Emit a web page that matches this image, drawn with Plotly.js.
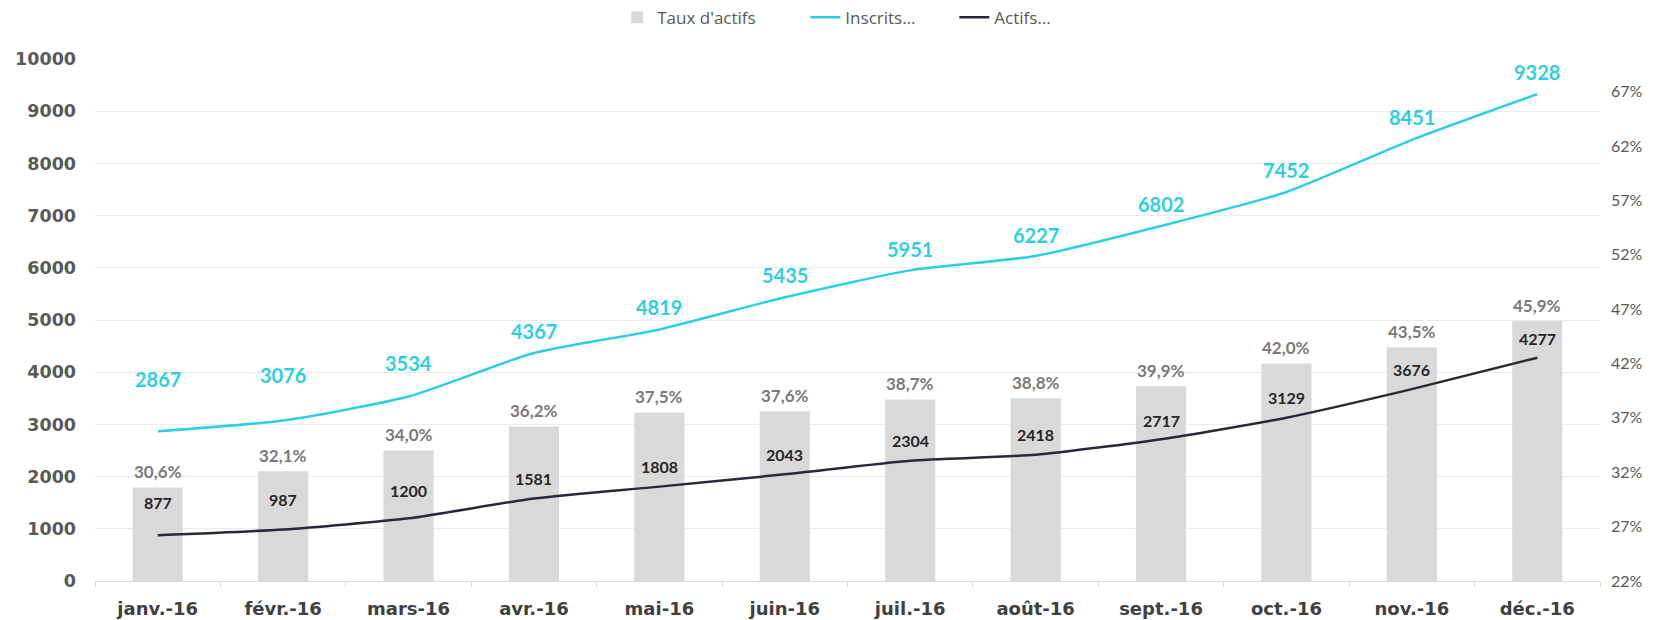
<!DOCTYPE html>
<html>
<head>
<meta charset="utf-8">
<script src="https://cdn.plot.ly/plotly-3.0.1.min.js"></script>
<style>html,body{margin:0;padding:0;background:#fff;}#chart{width:1659px;height:620px;}</style>
</head>
<body>
<div id="chart"></div>
<script>
const months = ["janv.-16","févr.-16","mars-16","avr.-16","mai-16","juin-16","juil.-16","août-16","sept.-16","oct.-16","nov.-16","déc.-16"];
const tauxActifs = [0.306,0.321,0.340,0.362,0.375,0.376,0.387,0.388,0.399,0.420,0.435,0.459];
const inscrits = [2867,3076,3534,4367,4819,5435,5951,6227,6802,7452,8451,9328];
const actifs = [877,987,1200,1581,1808,2043,2304,2418,2717,3129,3676,4277];

// label offsets (px) — styling only
const inscritsShift = [52,45,34,22,22,22,21,21,22,22,23,22];
const actifsShift = [33,30,28,20,20,20,20,20,19,20,20,19];

const CYAN = '#30CFE0';
const DARK = '#2B2835';
const FONT = 'Lato, "Open Sans", sans-serif';
const BOLDW = '"DejaVu Sans", sans-serif';
const LEG = '"Open Sans", sans-serif';

const traces = [
  {type:'bar', name:"Taux d'actifs", x:months, y:tauxActifs, yaxis:'y', legend:'legend',
   marker:{color:'#D9D9D9'}, hoverinfo:'skip'},
  {type:'scatter', mode:'lines', name:'Inscrits…', x:months, y:inscrits, yaxis:'y2', legend:'legend2',
   line:{color:CYAN, width:2.5, shape:'spline', smoothing:0.6}},
  {type:'scatter', mode:'lines', name:'Actifs…', x:months, y:actifs, yaxis:'y2', legend:'legend3',
   line:{color:DARK, width:2.5, shape:'spline', smoothing:0.6}}
];

const annotations = [];
months.forEach((m,i)=>{
  annotations.push({x:m, y:inscrits[i], xref:'x', yref:'y2', text:String(inscrits[i]), showarrow:false,
    yshift:inscritsShift[i], font:{family:FONT, size:20, color:CYAN, weight:700}});
  annotations.push({x:m, y:actifs[i], xref:'x', yref:'y2', text:String(actifs[i]), showarrow:false,
    yshift:actifsShift[i], font:{family:FONT, size:16, color:'#262626', weight:700}});
  annotations.push({x:m, y:tauxActifs[i], xref:'x', yref:'y', text:(tauxActifs[i]*100).toFixed(1).replace('.',',')+'%', showarrow:false,
    yshift:16, font:{family:FONT, size:17, color:'#7A7A7A', weight:700}});
});

const legBase = {orientation:'h', xanchor:'left', y:1.079, yanchor:'middle', itemwidth:30,
  font:{family:LEG, size:17, color:'#595959'}, bgcolor:'rgba(0,0,0,0)'};

const layout = {
  width:1659, height:620,
  margin:{l:95, r:59, t:59, b:39, autoexpand:false},
  paper_bgcolor:'#fff', plot_bgcolor:'#fff',
  separators:', ',
  bargap:0.6,
  showlegend:true,
  legend:Object.assign({}, legBase, {x:0.347}),
  legend2:Object.assign({}, legBase, {x:0.472}),
  legend3:Object.assign({}, legBase, {x:0.571}),
  xaxis:{type:'category', showline:true, linecolor:'#D9D9D9', linewidth:1,
    ticks:'outside', tickson:'boundaries', ticklen:5, tickcolor:'#D9D9D9', ticklabelstandoff:11,
    showgrid:false, tickfont:{family:BOLDW, size:18, color:'#404040', weight:700}},
  yaxis:{side:'right', range:[0.22,0.70], tick0:0.22, dtick:0.05, tickformat:'.0%',
    showgrid:false, zeroline:false, showline:false, ticklabelstandoff:10,
    tickfont:{family:FONT, size:16, color:'#595959'}},
  yaxis2:{overlaying:'y', side:'left', range:[0,10000], dtick:1000, tickformat:'d',
    showgrid:true, gridcolor:'#EBEBEB', gridwidth:1, zeroline:false, showline:false,
    ticklabelstandoff:18, tickfont:{family:BOLDW, size:17.5, color:'#595959', weight:700}},
  annotations:annotations
};

Plotly.newPlot('chart', traces, layout, {displayModeBar:false, staticPlot:true});
</script>
</body>
</html>
